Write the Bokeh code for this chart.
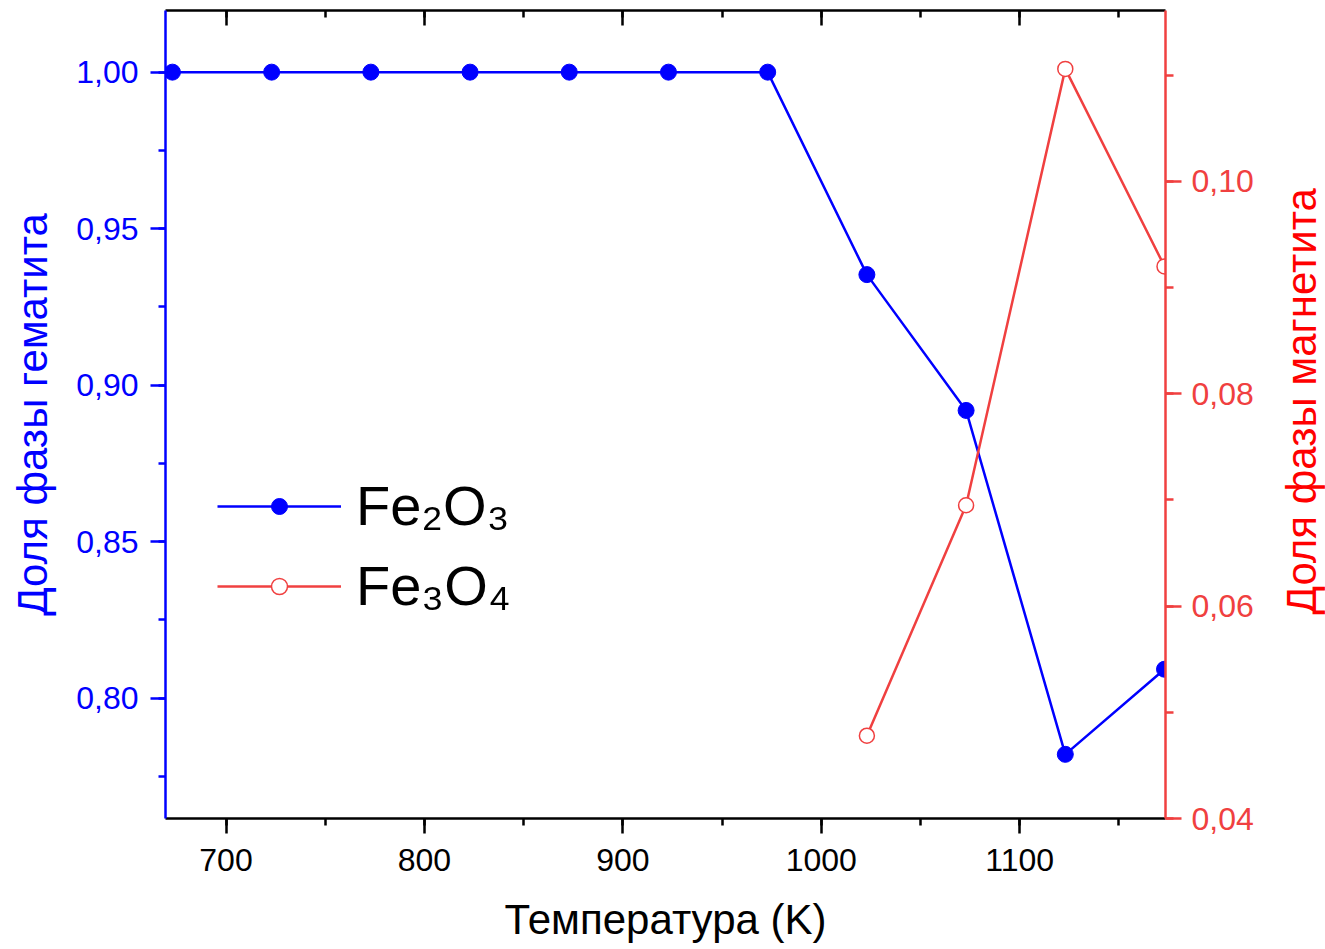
import math
from bokeh.plotting import figure
from bokeh.models import (Range1d, LinearAxis, SingleIntervalTicker,
                          CustomJSTickFormatter, Legend, LegendItem, Label)
from bokeh.embed import file_html
from bokeh.resources import INLINE

# ---- data ----
temp_fe2o3 = [673, 723, 773, 823, 873, 923, 973, 1023, 1073, 1123, 1173]
frac_fe2o3 = [1.0, 1.0, 1.0, 1.0, 1.0, 1.0, 1.0, 0.9353, 0.8919, 0.782, 0.8092]
temp_fe3o4 = [1023, 1073, 1123, 1173]
frac_fe3o4 = [0.0478, 0.0695, 0.1106, 0.092]
label_fe2o3 = "Fe₂O₃"
label_fe3o4 = "Fe₃O₄"
x_title = "Температура (K)"
y_left_title = "Доля фазы гематита"
y_right_title = "Доля фазы магнетита"

BLUE = "#0000FF"
RED_AX = "#F04040"
RED_TITLE = "#FF0000"
FONT = "Liberation Sans"

p = figure(width=1325, height=949, output_backend="svg", toolbar_location=None,
           x_range=Range1d(669.5, 1173.5), y_range=Range1d(0.7615, 1.0197),
           x_axis_location=None, y_axis_location=None,
           min_border_left=165, min_border_right=160,
           min_border_top=10, min_border_bottom=131)
p.extra_y_ranges = {"mag": Range1d(0.04, 0.1161)}
p.grid.visible = False
p.outline_line_color = None
p.background_fill_color = "white"
p.border_fill_color = "white"

fmt = CustomJSTickFormatter(code="return tick.toFixed(2).replace('.', ',');")


def style(ax, color, tick_out=15, minor_out=7, tick_in=0, minor_in=0):
    ax.axis_line_color = color
    ax.axis_line_width = 2.5
    ax.major_tick_line_color = color
    ax.minor_tick_line_color = color
    ax.major_tick_line_width = 2.5
    ax.minor_tick_line_width = 2.5
    ax.major_tick_out = tick_out
    ax.minor_tick_out = minor_out
    ax.major_tick_in = tick_in
    ax.minor_tick_in = minor_in
    ax.major_label_text_font = FONT
    ax.major_label_text_font_size = "32px"
    ax.axis_label_text_font = FONT
    ax.axis_label_text_font_size = "42px"
    ax.axis_label_text_font_style = "normal"


# bottom axis
xb = LinearAxis(ticker=SingleIntervalTicker(interval=100, num_minor_ticks=2),
                axis_label=x_title)
style(xb, "black")
xb.major_label_text_color = "black"
xb.axis_label_text_color = "black"
xb.major_label_standoff = 15
xb.axis_label_standoff = 22
p.add_layout(xb, "below")

# top axis (frame border with inward ticks, no labels)
xt = LinearAxis(ticker=SingleIntervalTicker(interval=100, num_minor_ticks=2))
style(xt, "black", tick_out=0, minor_out=0, tick_in=15, minor_in=7)
xt.major_label_text_font_size = "1px"
xt.major_label_text_color = None
xt.major_label_standoff = 0
p.add_layout(xt, "above")

# left axis
yl = LinearAxis(ticker=SingleIntervalTicker(interval=0.05, num_minor_ticks=2),
                formatter=fmt, axis_label=y_left_title)
style(yl, BLUE)
yl.major_label_text_color = BLUE
yl.axis_label_text_color = BLUE
yl.major_label_standoff = 12
yl.axis_label_standoff = 17
p.add_layout(yl, "left")

# right axis
yr = LinearAxis(y_range_name="mag",
                ticker=SingleIntervalTicker(interval=0.02, num_minor_ticks=2),
                formatter=fmt)
style(yr, RED_AX, tick_out=16, minor_out=8)
yr.major_label_text_color = RED_AX
yr.major_label_standoff = 10
p.add_layout(yr, "right")

# right axis title (reads bottom-to-top like the left one), placed in the
# right side panel so it is not clipped by the frame
p.add_layout(Label(x=1241.8, y=0.8948, text=y_right_title,
                   angle=math.pi / 2, angle_units="rad",
                   text_align="center", text_baseline="middle",
                   text_font=FONT, text_font_size="42px",
                   text_color=RED_TITLE), "right")

# series
l1 = p.line(temp_fe2o3, frac_fe2o3, line_color=BLUE, line_width=2.5)
s1 = p.scatter(temp_fe2o3, frac_fe2o3, marker="circle", size=16,
               fill_color=BLUE, line_color=BLUE, line_width=1)
l2 = p.line(temp_fe3o4, frac_fe3o4, line_color=RED_AX, line_width=2.5,
            y_range_name="mag")
s2 = p.scatter(temp_fe3o4, frac_fe3o4, marker="circle", size=15,
               fill_color="white", line_color=RED_AX, line_width=1.5,
               y_range_name="mag")

legend = Legend(items=[LegendItem(label=label_fe2o3, renderers=[l1, s1]),
                       LegendItem(label=label_fe3o4, renderers=[l2, s2])],
                location=(52, 200), border_line_color=None,
                background_fill_alpha=0, padding=0, margin=0,
                glyph_width=124, glyph_height=40, spacing=15,
                label_standoff=15, label_text_font=FONT,
                label_text_font_size="56px", label_text_color="black")
p.add_layout(legend)

open("out.html", "w").write(file_html(p, INLINE))
